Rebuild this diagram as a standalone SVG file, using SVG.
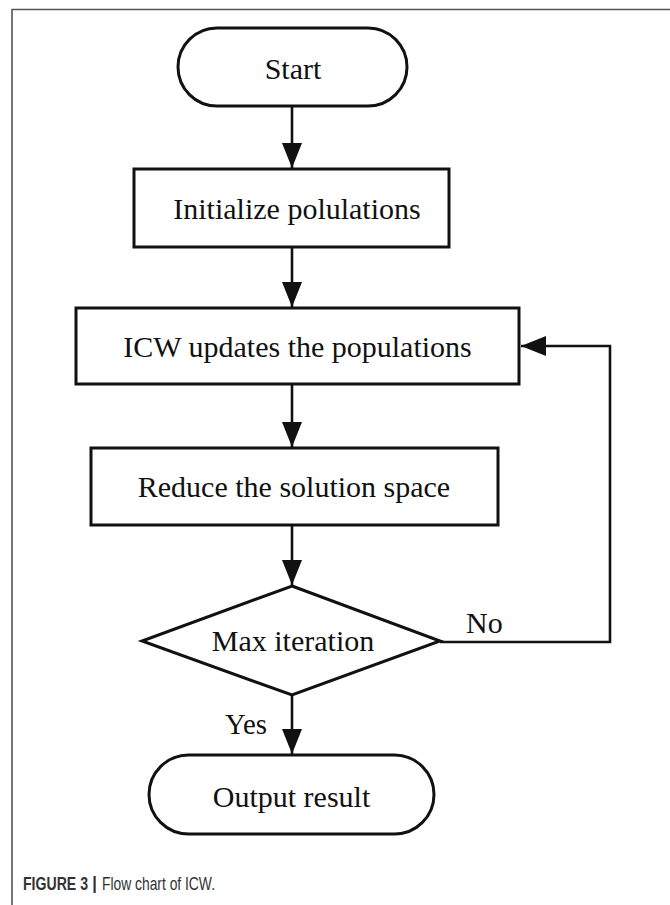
<svg xmlns="http://www.w3.org/2000/svg" width="670" height="905" viewBox="0 0 670 905">
<style>
.node{fill:#fff;stroke:#111;stroke-width:3}
.lbl{font-family:"Liberation Serif","Times New Roman",serif;font-size:30px;fill:#111;text-anchor:middle}
.lbl2{font-family:"Liberation Serif","Times New Roman",serif;font-size:30px;fill:#111}
.conn{fill:none;stroke:#111;stroke-width:2.6}
.frame{fill:none;stroke:#555;stroke-width:1.6}
.cap{font-family:"Liberation Sans",Arial,sans-serif;font-size:18px;fill:#333}
</style>
<defs>
<marker id="arr" markerUnits="userSpaceOnUse" markerWidth="26" markerHeight="20" refX="25" refY="10" orient="auto">
<path d="M0,0 L25,10 L0,20 Z" fill="#111"/>
</marker>
</defs>
<rect width="670" height="905" fill="#fff"/>
<path class="frame" d="M670,9.5 H12 V905"/>
<g id="start">
<rect class="node" x="178" y="28" width="229" height="78" rx="39" ry="39"/>
<text class="lbl" x="293" y="79">Start</text>
</g>
<g id="init">
<rect class="node" x="134" y="169" width="315" height="78"/>
<text class="lbl" x="297" y="219">Initialize polulations</text>
</g>
<g id="update">
<rect class="node" x="76" y="308" width="443" height="76"/>
<text class="lbl" x="297.5" y="357">ICW updates the populations</text>
</g>
<g id="reduce">
<rect class="node" x="91" y="448" width="407" height="77"/>
<text class="lbl" x="294" y="497">Reduce the solution space</text>
</g>
<g id="decision">
<polygon class="node" points="292,586 440,641 292,695 142,641"/>
<text class="lbl" x="293" y="651">Max iteration</text>
</g>
<g id="output">
<rect class="node" x="149" y="755" width="285" height="79" rx="39.5" ry="39.5"/>
<text class="lbl" x="291.5" y="807">Output result</text>
</g>
<g id="connectors">
<line class="conn" x1="292" y1="106" x2="292" y2="168" marker-end="url(#arr)"/>
<line class="conn" x1="292" y1="247" x2="292" y2="307" marker-end="url(#arr)"/>
<line class="conn" x1="292" y1="384" x2="292" y2="447" marker-end="url(#arr)"/>
<line class="conn" x1="292" y1="525" x2="292" y2="585" marker-end="url(#arr)"/>
<line class="conn" x1="292" y1="695" x2="292" y2="754" marker-end="url(#arr)"/>
<polyline class="conn" points="440,642 610,642 610,346 521,346" marker-end="url(#arr)"/>
<text class="lbl2" x="466" y="633">No</text>
<text class="lbl2" x="225" y="734" textLength="42" lengthAdjust="spacingAndGlyphs">Yes</text>
</g>
<g id="caption">
<text class="cap" x="23" y="890"><tspan font-weight="bold" textLength="65" lengthAdjust="spacingAndGlyphs">FIGURE 3</tspan></text>
<rect x="93.5" y="876" width="2.2" height="17" fill="#333"/>
<text class="cap" x="102" y="890" textLength="113" lengthAdjust="spacingAndGlyphs">Flow chart of ICW.</text>
</g>
</svg>
